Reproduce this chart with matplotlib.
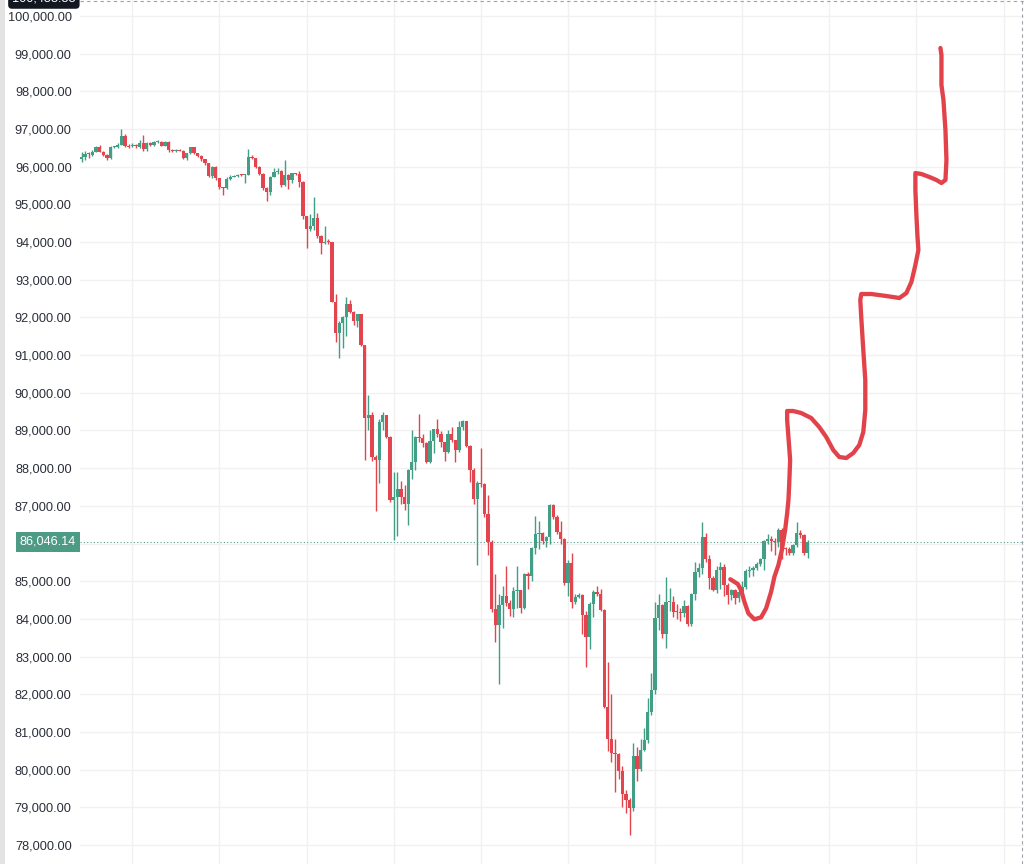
import matplotlib
matplotlib.use("Agg")
import matplotlib.pyplot as plt
from matplotlib.patches import Rectangle

# ---------------- data (hourly candles) ----------------
opens = [96200, 96270, 96350, 96310, 96400, 96515, 96400, 96310, 96220, 96515,
         96530, 96590, 96820, 96560, 96550, 96565, 96530, 96640, 96460, 96637,
         96575, 96646, 96664, 96560, 96650, 96440, 96416, 96440, 96425, 96221,
         96354, 96513, 96354, 96292, 96195, 96088, 95752, 96000, 95690, 95451,
         95440, 95664, 95734, 95760, 95785, 95770, 95790, 96265, 96230, 96000,
         95820, 95440, 95320, 95735, 95870, 95895, 95513, 95780, 95646, 95823,
         95800, 95600, 94690, 94345, 94434, 94646, 94170, 93965, 94010, 93990,
         92415, 91575, 91860, 92020, 92370, 92150, 91900, 92080, 91265, 89320,
         89400, 88300, 88210, 89230, 89400, 88830, 87150, 87240, 87460, 87240,
         87060, 87950, 88170, 88830, 88790, 88680, 88170, 88720, 89030, 88900,
         88690, 88430, 88910, 88735, 88470, 89090, 89240, 88600, 87940, 87190,
         87610, 87570, 86790, 86040, 84250, 83850, 84380, 84600, 84430, 84250,
         84740, 84760, 84300, 85200, 85150, 85880, 86260, 86280, 86060, 86170,
         87010, 86700, 86300, 86110, 84960, 85490, 84460, 84580, 84640, 84110,
         83520, 84400, 84710, 84670, 84240, 81660, 80820, 80440, 80420, 79960,
         79340, 79200, 78980, 80350, 80010, 80530, 80790, 81530, 82120, 84020,
         84370, 83600, 84440, 84440, 84190, 84170, 84150, 84350, 83860, 84650,
         85250, 85340, 86180, 85590, 85080, 84770, 85300, 85380, 84900, 84630,
         84770, 84545, 84720, 84850, 85280, 85300, 85360, 85470, 85580, 86060,
         86130, 86070, 86050, 86360, 85870, 85850, 85760, 85960, 86280, 86220,
         85760]
highs = [96400, 96420, 96380, 96440, 96540, 96580, 96420, 96330, 96540, 96560,
         96620, 97000, 96880, 96600, 96620, 96600, 96700, 96840, 96660, 96660,
         96680, 96700, 96690, 96680, 96670, 96460, 96470, 96460, 96440, 96370,
         96530, 96530, 96370, 96310, 96210, 96100, 96030, 96010, 95710, 95470,
         95720, 95780, 95790, 95800, 95800, 95820, 96470, 96310, 96240, 96020,
         95840, 95460, 95760, 95960, 95960, 95910, 96180, 95800, 95840, 95840,
         95900, 95620, 94700, 94750, 95200, 94770, 94200, 94420, 94080, 94000,
         92620, 91900, 92040, 92550, 92460, 92180, 92100, 92100, 91280, 89950,
         89500, 88350, 89300, 89500, 89420, 88850, 87900, 87900, 87650, 87560,
         87980, 89000, 88860, 89440, 88900, 88700, 89000, 89050, 89300, 88980,
         88700, 89000, 89100, 88760, 89240, 89280, 89260, 88620, 88000, 87660,
         88530, 87600, 87290, 86100, 85200, 84650, 84880, 85400, 84500, 84850,
         85410, 84780, 85220, 85240, 85900, 86730, 86600, 86300, 86200, 87050,
         87060, 86750, 86600, 86150, 85560, 85750, 84650, 84680, 84660, 84200,
         84450, 84770, 84880, 84800, 84250, 82860, 82000, 80800, 80430, 80100,
         79450, 79250, 80700, 80600, 80800, 81100, 81900, 82560, 84460, 84650,
         84400, 85120, 84810, 84600, 84400, 84300, 84500, 84380, 84700, 85500,
         85480, 86570, 86280, 85700, 85150, 85400, 85500, 85450, 84950, 84800,
         84800, 84760, 85000, 85320, 85400, 85400, 85520, 85620, 86100, 86250,
         86200, 86150, 86400, 86400, 85900, 85900, 86000, 86570, 86350, 86260,
         86100]
lows = [96130, 96190, 96220, 96280, 96380, 96380, 96280, 96170, 96200, 96490,
        96510, 96570, 96530, 96510, 96520, 96510, 96510, 96420, 96430, 96540,
        96560, 96620, 96540, 96540, 96400, 96380, 96400, 96410, 96200, 96190,
        96330, 96330, 96250, 96160, 96050, 95720, 95700, 95650, 95420, 95250,
        95420, 95650, 95720, 95740, 95750, 95560, 95770, 96200, 95960, 95780,
        95380, 95090, 95260, 95720, 95800, 95470, 95480, 95400, 95560, 95780,
        95470, 94600, 93830, 94300, 94330, 94100, 93680, 93950, 93960, 92400,
        91360, 90930, 91190, 91500, 92130, 91800, 91750, 91240, 88210, 89000,
        88200, 86870, 87600, 89000, 88800, 87100, 86100, 86200, 87050, 86900,
        86500, 87700, 87950, 88700, 88560, 88150, 88150, 88400, 88820, 88560,
        88200, 88400, 88700, 88160, 88440, 89000, 88560, 87620, 87050, 85420,
        87500, 86700, 85690, 84180, 83400, 82260, 83750, 84330, 84080, 84050,
        84300, 84160, 84250, 84800, 85000, 85720, 85850, 86000, 85900, 86000,
        86650, 86250, 86000, 84900, 84600, 84300, 84400, 84550, 83600, 82720,
        83210, 84050, 84600, 84200, 81630, 80500, 80200, 79400, 79740, 79000,
        78850, 78264, 78900, 79700, 79950, 80500, 80700, 81450, 82000, 83700,
        83500, 83220, 84200, 84050, 84000, 83950, 84050, 83820, 83800, 84500,
        85100, 85200, 85500, 84800, 84750, 84700, 84800, 84600, 84400, 84500,
        84400, 84450, 84650, 84800, 85100, 85150, 85300, 85400, 85300, 86000,
        85800, 85700, 85900, 85600, 85700, 85700, 85700, 85900, 86150, 85700,
        85620]
closes = [96260, 96350, 96330, 96400, 96515, 96400, 96310, 96220, 96515, 96530,
          96590, 96820, 96560, 96530, 96565, 96540, 96640, 96460, 96637, 96575,
          96646, 96664, 96560, 96650, 96440, 96416, 96440, 96425, 96221, 96354,
          96513, 96354, 96292, 96195, 96088, 95752, 96000, 95690, 95451, 95440,
          95664, 95734, 95760, 95779, 95770, 95790, 96265, 96230, 96000, 95820,
          95440, 95320, 95735, 95870, 95895, 95513, 95780, 95646, 95823, 95800,
          95600, 94690, 94345, 94434, 94646, 94170, 93965, 94010, 93990, 92415,
          91575, 91860, 92020, 92370, 92150, 91900, 92080, 91265, 89320, 89400,
          88300, 88210, 89230, 89400, 88830, 87150, 87240, 87460, 87240, 87060,
          87950, 88170, 88830, 88790, 88680, 88170, 88720, 89030, 88900, 88690,
          88430, 88910, 88735, 88470, 89090, 89240, 88600, 87940, 87190, 87610,
          87570, 86790, 86040, 84250, 83850, 84380, 84600, 84430, 84250, 84740,
          84760, 84300, 85200, 85150, 85880, 86260, 86280, 86060, 86170, 87010,
          86700, 86300, 86110, 84960, 85490, 84460, 84580, 84640, 84110, 83520,
          84400, 84710, 84670, 84240, 81660, 80820, 80440, 80420, 79960, 79340,
          79200, 78980, 80350, 80010, 80530, 80790, 81530, 82120, 84020, 84370,
          83600, 84440, 84460, 84190, 84170, 84150, 84350, 83860, 84650, 85250,
          85340, 86180, 85590, 85080, 84770, 85300, 85380, 84900, 84630, 84770,
          84545, 84720, 84850, 85280, 85300, 85360, 85470, 85580, 86060, 86130,
          86070, 86050, 86360, 85870, 85850, 85760, 85960, 86280, 86220, 85760,
          86046.14]

last_price = 86046.14
crosshair_price = 100453.55
y_ticks = list(range(78000, 100001, 1000))
hidden_tick = 86000  # covered by the last-price label
day_starts = [14 + 24 * k for k in range(11)]

# hand-drawn projection line (bar index, price)
draw_x = [178.74, 180.79, 181.70, 182.61, 183.71, 185.37, 187.22, 188.60, 189.98, 190.89,
          191.99, 192.93, 193.84, 194.39, 194.75, 194.95, 195.22, 194.81, 194.39, 194.39,
          196.05, 198.26, 201.02, 203.23, 205.16, 207.09, 208.75, 210.68, 212.61, 214.27,
          215.37, 215.92, 215.92, 215.37, 214.82, 214.54, 214.82, 217.58, 221.72, 225.31,
          227.24, 228.62, 229.72, 230.55, 230.27, 230.00, 229.72, 229.72, 231.38, 233.59,
          235.52, 236.90, 238.00, 238.28, 238.00, 237.45, 236.90, 236.90, 236.90, 236.62]
draw_y = [85051, 84926, 84767, 84456, 84148, 83989, 84042, 84281, 84721, 85120,
          85430, 85828, 86359, 86802, 87155, 87553, 88217, 88747, 89278, 89517,
          89517, 89464, 89331, 89092, 88827, 88482, 88296, 88270, 88402, 88615,
          88960, 89544, 90340, 91136, 91985, 92463, 92622, 92622, 92569, 92516,
          92649, 92941, 93392, 93790, 94188, 94719, 95382, 95833, 95807, 95727,
          95648, 95568, 95648, 96178, 96975, 97771, 98169, 98567, 98965, 99151]

# ---------------- style ----------------
GREEN = "#429e85"
RED = "#e2454d"
GRID = "#f1f1f1"
TEXT = "#2a2e39"
FONT = "Liberation Sans"
FS = 9.2

W, H = 1024, 864
fig = plt.figure(figsize=(W / 100, H / 100), dpi=100)
fig.patch.set_facecolor("white")
ax = fig.add_axes([80 / W, 0, (W - 80) / W, 1])

x0_px, step_px = 81.5, 3.63
ax.set_xlim((80 - x0_px) / step_px, (W - x0_px) / step_px)
ax.set_ylim(77495, 100425)

for s in ax.spines.values():
    s.set_visible(False)

# grid
for yv in y_ticks:
    ax.axhline(yv, color=GRID, lw=1.0, zorder=0)
for xv in day_starts:
    ax.axvline(xv, color=GRID, lw=1.0, zorder=0)

# candles
for i, (o, h, l, c) in enumerate(zip(opens, highs, lows, closes)):
    col = GREEN if c >= o else RED
    ax.vlines(i, l, h, color=col, lw=1.0, zorder=2)
    bottom = min(o, c)
    height = max(abs(c - o), 30)
    ax.add_patch(Rectangle((i - 0.45, bottom), 0.9, height, facecolor=col,
                           edgecolor="none", zorder=3))

# last price dotted line
ax.axhline(last_price, color="#5a9c8a", lw=0.8, ls=(0, (1, 2)), zorder=1)

# crosshair (dashed)
ax.axhline(100400, color="#a0a3ab", lw=0.8, ls=(0, (3, 3)), zorder=1)
ax.axvline(259.0, color="#a0a3ab", lw=0.8, ls=(0, (3, 3)), zorder=1)

# hand drawn line
ax.plot(draw_x, draw_y, color="#e2434b", lw=3.1, solid_capstyle="round",
        solid_joinstyle="round", zorder=5)

# y tick labels
ax.set_yticks(y_ticks)
ax.set_yticklabels(["" if v == hidden_tick else f"{v:,.2f}" for v in y_ticks])
ax.tick_params(axis="y", length=0, pad=6, labelsize=FS, labelcolor=TEXT)
for t in ax.get_yticklabels():
    t.set_fontfamily(FONT)
ax.set_xticks([])

# price label
ytr = ax.get_yaxis_transform()
ax.text(-0.0045, last_price, f"{last_price:,.2f}", transform=ytr, ha="right",
        va="center", fontsize=FS, color="white", family=FONT, clip_on=False,
        bbox=dict(boxstyle="square,pad=0.3", facecolor="#4d9b84", edgecolor="none"),
        zorder=6)
# crosshair label (cut at top)
ax.text(-0.0045, crosshair_price, f"{crosshair_price:,.2f}", transform=ytr, ha="right",
        va="center", fontsize=FS, color="white", family=FONT, clip_on=False,
        bbox=dict(boxstyle="round,pad=0.3", facecolor="#131722", edgecolor="none"),
        zorder=6)

# left gray strip
fig.patches.append(Rectangle((0, 0), 5 / W, 1, transform=fig.transFigure,
                             facecolor="#e3e3e3", edgecolor="none"))

fig.savefig("out.png", dpi=100)
